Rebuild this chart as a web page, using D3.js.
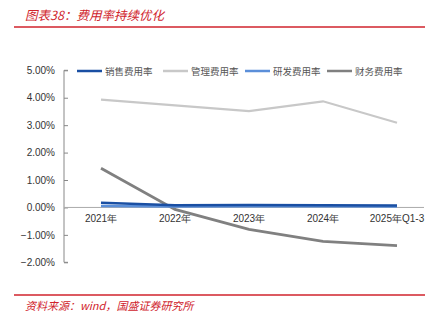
<!DOCTYPE html>
<html><head><meta charset="utf-8">
<script src="https://cdn.jsdelivr.net/npm/d3@7"></script>
<style>body{margin:0;background:#fff;} svg{display:block;}</style>
</head><body>
<script>
const categories = ["2021年","2022年","2023年","2024年","2025年Q1-3"];
const sales   = [0.17, 0.08, 0.09, 0.08, 0.07];
const admin   = [3.93, 3.72, 3.51, 3.87, 3.09];
const rnd     = [0.05, 0.03, 0.04, 0.04, 0.03];
const finance = [1.43, -0.07, -0.80, -1.24, -1.39];
const yTicks  = [5, 4, 3, 2, 1, 0, -1, -2];
const seriesNames = ["销售费用率","管理费用率","研发费用率","财务费用率"];

const W = 447, H = 324;
const svg = d3.select("body").append("svg").attr("width", W).attr("height", H);
const red = "#d0232c";
const cjk = "'Noto Sans CJK SC', sans-serif";

// header
svg.append("text").attr("x", 25).attr("y", 20).attr("fill", red)
  .attr("font-family", cjk).attr("font-size", 12.5).attr("font-style", "italic")
  .text("图表38：费用率持续优化");
svg.append("line").attr("x1", 14).attr("x2", 425).attr("y1", 27).attr("y2", 27)
  .attr("stroke", red).attr("stroke-width", 1.5);
svg.append("line").attr("x1", 14).attr("x2", 425).attr("y1", 295).attr("y2", 295)
  .attr("stroke", red).attr("stroke-width", 1.5);
svg.append("text").attr("x", 25).attr("y", 310).attr("fill", red)
  .attr("font-family", cjk).attr("font-size", 11).attr("font-style", "italic")
  .text("资料来源：wind，国盛证券研究所");

const y = d3.scaleLinear().domain([-2, 5]).range([262.3, 70.3]);
const x = d3.scalePoint().domain(categories).range([101, 397]);

// y axis
const yAxis = d3.axisRight(y).tickValues(yTicks).tickSize(4).tickFormat(d => d3.format(".2f")(d) + "%");
const gy = svg.append("g").attr("transform", "translate(64,0)").call(yAxis);
gy.select(".domain").attr("stroke", "#888").attr("d", `M4,${y(5)}H0V${y(-2)}H4`);
gy.selectAll(".tick line").attr("stroke", "#888");
gy.selectAll(".tick text").attr("x", -9).attr("text-anchor", "end")
  .attr("font-family", "'Liberation Sans', Arial, sans-serif").attr("font-size", 10).attr("fill", "#333");

// zero axis
svg.append("line").attr("x1", 64).attr("x2", 424).attr("y1", y(0)).attr("y2", y(0))
  .attr("stroke", "#aaa").attr("stroke-width", 1);
svg.append("g").selectAll("text").data(categories).join("text")
  .attr("x", d => x(d)).attr("y", y(0) + 15).attr("text-anchor", "middle")
  .attr("font-family", "'Liberation Sans', Arial, sans-serif").attr("font-size", 10).attr("fill", "#333")
  .text(d => d);

const series = [
  {name: seriesNames[1], vals: admin,   color: "#c8c8c8", w: 2.2},
  {name: seriesNames[3], vals: finance, color: "#808080", w: 2.8},
  {name: seriesNames[2], vals: rnd,     color: "#5b8fd9", w: 2.5},
  {name: seriesNames[0], vals: sales,   color: "#1a4fa3", w: 2.5},
];
const line = d3.line().x((d, i) => x(categories[i])).y(d => y(d));
svg.append("g").selectAll("path").data(series).join("path")
  .attr("d", s => line(s.vals)).attr("fill", "none")
  .attr("stroke", s => s.color).attr("stroke-width", s => s.w);

// legend
const legend = [
  {name: seriesNames[0], color: "#1a4fa3", x: 77},
  {name: seriesNames[1], color: "#c8c8c8", x: 163},
  {name: seriesNames[2], color: "#5b8fd9", x: 245},
  {name: seriesNames[3], color: "#808080", x: 327},
];
const lg = svg.append("g").selectAll("g").data(legend).join("g")
  .attr("transform", d => `translate(${d.x},71)`);
lg.append("line").attr("x1", 0).attr("x2", 25).attr("stroke", d => d.color).attr("stroke-width", 2.5);
lg.append("text").attr("x", 28).attr("y", 3.5).attr("font-family", cjk).attr("font-size", 9.5)
  .attr("fill", "#555").text(d => d.name);
</script>
</body></html>
